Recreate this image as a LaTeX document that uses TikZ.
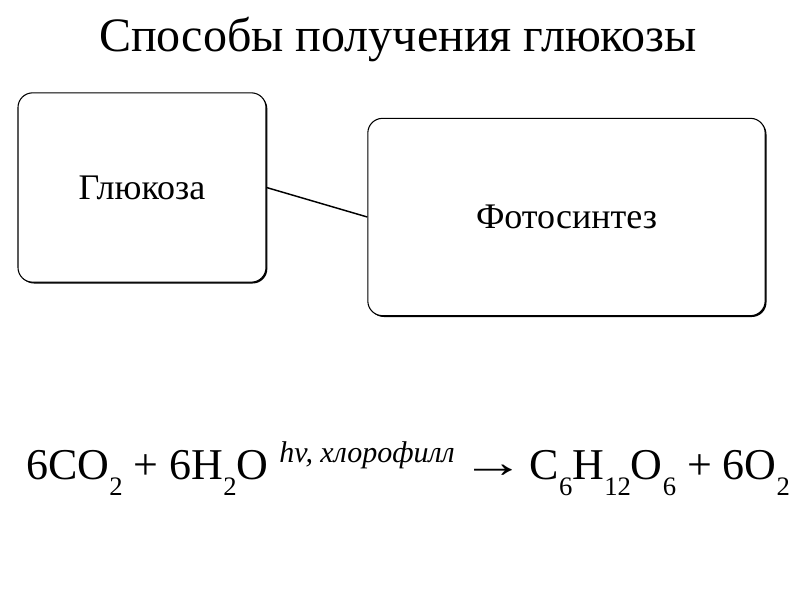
\documentclass[tikz,border=0pt]{standalone}
\usepackage{fontspec}
\setmainfont{Liberation Serif}
\newfontfamily\eqfont{Liberation Serif}
\usepackage{tikz}
\usetikzlibrary{positioning,shadows}
\newcommand{\ind}[1]{\raisebox{-12pt}{\fontsize{20}{20}\selectfont #1}}
\newcommand{\cond}[1]{\raisebox{12.75pt}{\fontsize{22.5}{22.5}\selectfont\itshape #1}}
\newcommand{\yields}{\kern-3pt\raisebox{1pt}{\scalebox{1.45}[1]{→}}\kern-5pt}

\begin{document}
\begin{tikzpicture}[
  x=0.75pt, y=-0.75pt,
  box/.style={draw, rounded corners=11pt, fill=white, line width=0.8pt,
    drop shadow={shadow xshift=1pt, shadow yshift=-1pt, opacity=1, fill=black},
    font=\fontsize{27}{30}\selectfont, inner sep=0pt},
  title/.style={font=\fontsize{36}{40}\selectfont, anchor=base},
  eqn/.style={font=\eqfont\fontsize{33}{36}\selectfont, anchor=base west, inner sep=0pt}
]
\useasboundingbox (0,0) rectangle (800,600);

% title
\node[title] (head) at (398,51) {Способы получения глюкозы};

% boxes
\node[box, minimum width=186pt, minimum height=142pt] (gluc) at (142,187.5) {Глюкоза};
\node[box, minimum width=298pt, minimum height=148pt] (photo) at (566.5,217) {Фотосинтез};

\draw[line width=1.1pt] (gluc.east) -- (photo.west);

% equation
\node[eqn] (eq) at (26,479)
  {6CO\ind{2} + 6H\ind{2}O \cond{hv, хлорофилл} \yields{} C\ind{6}H\ind{12}O\ind{6} + 6O\ind{2}};
\end{tikzpicture}
\end{document}
